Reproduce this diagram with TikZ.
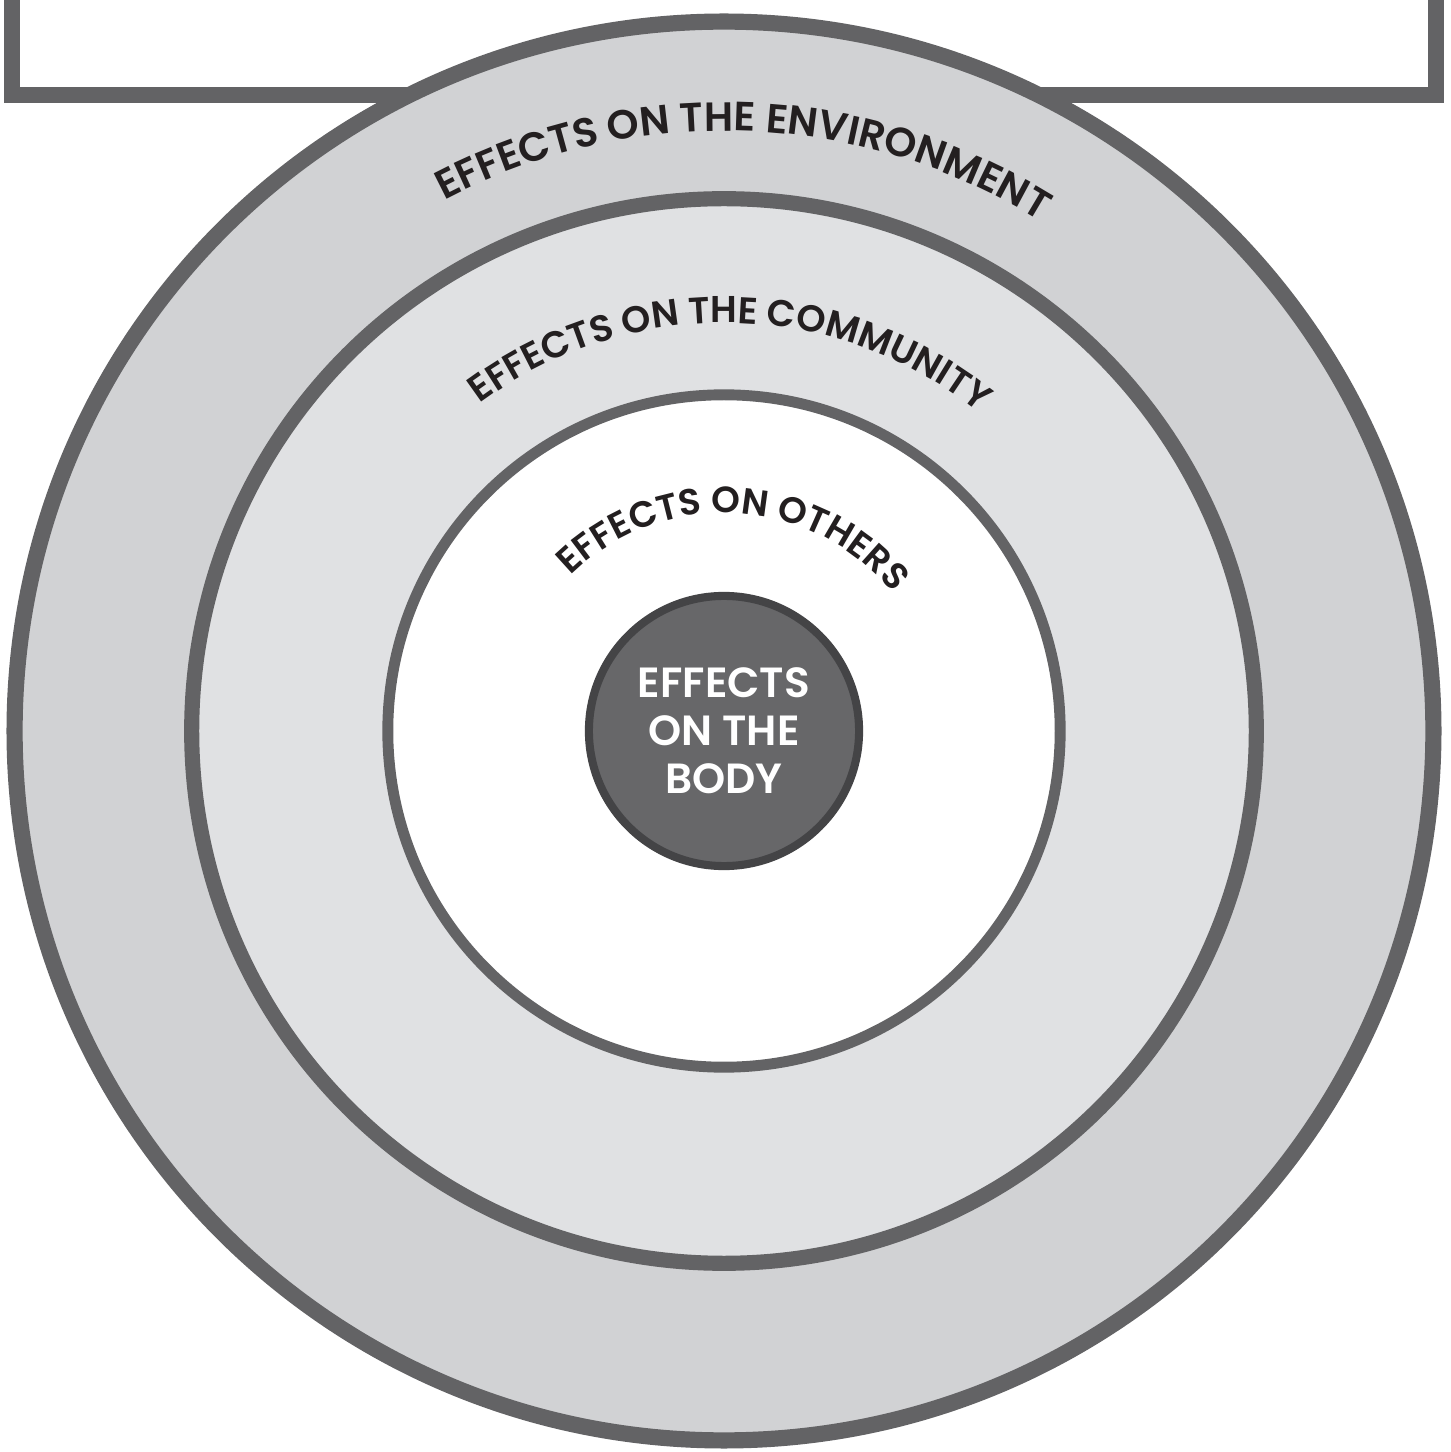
\documentclass[tikz,border=0pt]{standalone}
\usepackage{fontspec}
\setmainfont{Poppins}[UprightFont=*-Medium,BoldFont=*-SemiBold]
\usepackage{xcolor}
\definecolor{LineCol}{RGB}{99,99,101}
\definecolor{BodyLine}{RGB}{68,68,70}
\definecolor{BodyFill}{RGB}{103,103,105}
\definecolor{OuterFill}{RGB}{209,210,212}
\definecolor{MidFill}{RGB}{224,225,227}
\definecolor{TextCol}{RGB}{35,31,32}
\usepackage{tikz}
\usetikzlibrary{decorations.text}
\tikzstyle{Ring}=[circle,draw=LineCol,inner sep=0pt]
\tikzstyle{Frame}=[draw=LineCol,line width=4.6pt,fill=white]
\tikzstyle{Body}=[circle,draw=BodyLine,fill=BodyFill,line width=2.3pt,
inner sep=0pt,minimum size=2.7cm,text=white,align=center,
font=\bfseries\fontsize{12}{13.7}\selectfont]
\tikzstyle{Curve}=[decorate,decoration={text along path,text align=center,
text color=TextCol,text={#1}}]

\begin{document}
\begin{tikzpicture}[x=0.01cm,y=0.01cm]
    \useasboundingbox(-724,-721)rectangle(726,731);
    \clip(-724,-721)rectangle(726,731);
    \draw[Frame](-712,636)rectangle(712,800);
    \node[Ring,fill=OuterFill,line width=4.6pt,minimum size=14.18cm]
        (environment)at(0,0){};
    \node[Ring,fill=MidFill,line width=4.3pt,minimum size=10.64cm]
        (community)at(0,0){};
    \node[Ring,fill=white,line width=3.1pt,minimum size=6.72cm]
        (others)at(0,0){};
    \node[Body](body)at(0,0){EFFECTS\\ON THE\\BODY};
    \path[Curve={|\bfseries\fontsize{11.6}{13}\selectfont|EFFECTS ON THE ENVIRONMENT}]
        (148:600)arc[start angle=148,end angle=28,radius=600];
    \path[Curve={|\bfseries\fontsize{10.6}{12}\selectfont|EFFECTS ON THE COMMUNITY}]
        (149:408)arc[start angle=149,end angle=29,radius=408];
    \path[Curve={|\bfseries\fontsize{10.4}{12}\selectfont|EFFECTS ON OTHERS}]
        (177:218)arc[start angle=177,end angle=-3,radius=218];
\end{tikzpicture}
\end{document}
